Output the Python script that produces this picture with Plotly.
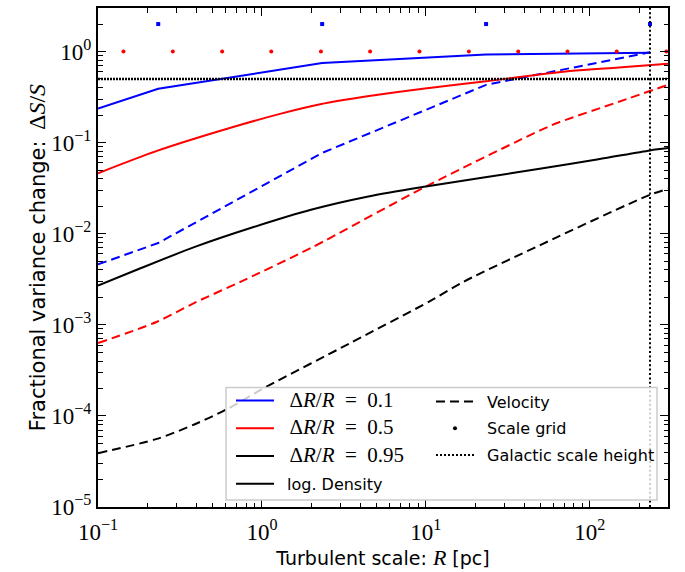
import numpy as np
import plotly.graph_objects as go

# ---------------- data ----------------
R_blue = [0.1, 0.233, 2.33, 23.3, 233]
blue_density = [0.236, 0.39, 0.745, 0.927, 0.966]
blue_velocity = [4.6e-3, 7.9e-3, 0.077, 0.43, 0.98]

R_red_d = [0.1, 0.229, 0.675, 1.29, 2.27, 4.5, 9.6, 21.3, 75.5, 150, 300]
red_density = [0.046, 0.081, 0.149, 0.2065, 0.263, 0.3236, 0.39, 0.462, 0.609, 0.668, 0.735]
R_red_v = [0.1, 0.229, 0.39, 0.75, 1.99, 10, 50.6, 65.6, 149, 300]
red_velocity = [6.3e-4, 1.08e-3, 1.75e-3, 3.0e-3, 6.97e-3, 0.0329, 0.138, 0.168, 0.279, 0.43]

R_blk_d = [0.1, 0.174, 0.39, 0.88, 1.99, 4.46, 10, 22.5, 50.6, 113, 233, 300]
black_density = [2.69e-3, 4.04e-3, 7.16e-3, 0.01175, 0.0183, 0.0256, 0.0329, 0.0413, 0.0519, 0.0655, 0.082, 0.087]
R_blk_v = [0.1, 0.229, 0.39, 0.603, 1.04, 3.4, 10.6, 17.2, 50.6, 233, 300]
black_velocity = [3.9e-5, 5.6e-5, 8.1e-5, 1.17e-4, 2.04e-4, 6.2e-4, 1.82e-3, 3.0e-3, 7.6e-3, 0.0267, 0.031]

grid_blue_R = [0.233, 2.33, 23.3, 233]
grid_blue_y = 2.0
grid_red_R = [0.143, 0.286, 0.572, 1.14, 2.29, 4.57, 9.14, 18.3, 36.6, 73.1, 146, 293]
grid_red_y = 1.0

threshold = 0.5
R_gal = 233

x_range = [0.1, 300]
y_range = [1e-5, 3]
x_tickvals = [0.1, 1, 10, 100]
x_ticktext = ["10<sup>−1</sup>", "10<sup>0</sup>", "10<sup>1</sup>", "10<sup>2</sup>"]
y_tickvals = [1e-5, 1e-4, 1e-3, 1e-2, 1e-1, 1]
y_ticktext = ["10<sup>−5</sup>", "10<sup>−4</sup>", "10<sup>−3</sup>", "10<sup>−2</sup>",
              "10<sup>−1</sup>", "10<sup>0</sup>"]

labels_dr = ["0.1", "0.5", "0.95"]
colors = ["#0000ff", "#ff0000", "#000000"]

# ---------------- figure ----------------
SERIF = "Liberation Serif"
SANS = "DejaVu Sans"
DASH = "9px,5px"

fig = go.Figure()

def add_line(x, y, color, dash, shape):
    fig.add_trace(go.Scatter(x=x, y=y, mode="lines", showlegend=False,
                             line=dict(color=color, width=2, dash=dash, shape=shape, smoothing=0.8),
                             hoverinfo="skip"))

add_line(R_blue, blue_density, colors[0], "solid", "linear")
add_line(R_blue, blue_velocity, colors[0], DASH, "linear")
add_line(R_red_d, red_density, colors[1], "solid", "spline")
add_line(R_red_v, red_velocity, colors[1], DASH, "spline")
add_line(R_blk_d, black_density, colors[2], "solid", "spline")
add_line(R_blk_v, black_velocity, colors[2], DASH, "spline")

# scale grid dots
fig.add_trace(go.Scatter(x=grid_blue_R, y=[grid_blue_y] * len(grid_blue_R), mode="markers",
                         marker=dict(color=colors[0], size=4, symbol="square"), showlegend=False))
fig.add_trace(go.Scatter(x=grid_red_R, y=[grid_red_y] * len(grid_red_R), mode="markers",
                         marker=dict(color=colors[1], size=4), showlegend=False))

# reference lines
fig.add_trace(go.Scatter(x=x_range, y=[threshold, threshold], mode="lines", showlegend=False,
                         line=dict(color="black", width=2.5, dash="2px,1px")))
fig.add_trace(go.Scatter(x=[R_gal, R_gal], y=y_range, mode="lines", showlegend=False,
                         line=dict(color="black", width=2, dash="2px,2.4px")))

# legend proxies
SP = "\u2002"
for lab, c in zip(labels_dr, colors):
    fig.add_trace(go.Scatter(x=[None], y=[None], mode="lines", line=dict(color=c, width=2),
                             name=f"<span style='font-family:{SERIF};font-size:21px'>{SP}Δ<i>R</i>/<i>R</i>{SP}={SP}{lab}</span>",
                             legend="legend", legendgroup=lab))
fig.add_trace(go.Scatter(x=[None], y=[None], mode="lines", line=dict(color="black", width=2),
                         name=f"{SP}log. Density", legend="legend", legendgroup="dens"))
fig.add_trace(go.Scatter(x=[None], y=[None], mode="lines", line=dict(color="black", width=2, dash=DASH),
                         name=f"{SP}Velocity", legend="legend2", legendgroup="vel"))
fig.add_trace(go.Scatter(x=[None], y=[None], mode="markers", marker=dict(color="black", size=4),
                         name=f"{SP}Scale grid", legend="legend2", legendgroup="grid"))
fig.add_trace(go.Scatter(x=[None], y=[None], mode="lines", line=dict(color="black", width=2, dash="2px,2px"),
                         name=f"{SP}Galactic scale height", legend="legend2", legendgroup="gal"))

# plot-area geometry in px
L, Rm, T, B = 98, 17, 6, 65
W, H = 685, 572
pw, ph = W - L - Rm, H - T - B

def px_to_paper(x, y):
    return (x - L) / pw, (H - B - y) / ph

bx0, by0 = px_to_paper(226, 387)
bx1, by1 = px_to_paper(657, 500)
fig.add_shape(type="rect", xref="paper", yref="paper", x0=bx0, y0=by1, x1=bx1, y1=by0,
              line=dict(color="#cccccc", width=1.5), fillcolor="rgba(255,255,255,0.8)", layer="above")

lx1, ly1 = px_to_paper(231, 383)
lx2, ly2 = px_to_paper(431, 384)
legend_common = dict(bgcolor="rgba(0,0,0,0)", borderwidth=0, yanchor="top", xanchor="left",
                     font=dict(family=SANS, size=16, color="black"), tracegroupgap=4,
                     itemwidth=38)
fig.update_layout(
    legend=dict(x=lx1, y=ly1, **legend_common),
    legend2=dict(x=lx2, y=ly2, **{**legend_common, "tracegroupgap": 3}),
)

def minor_vals(lo, hi):
    vals = []
    for e in range(lo, hi + 1):
        for m in range(2, 10):
            vals.append(m * 10.0 ** e)
    return vals

xminor = [v for v in minor_vals(-1, 2) if x_range[0] < v <= x_range[1]]
yminor = [v for v in minor_vals(-5, 0) if y_range[0] < v <= y_range[1]]

axis_common = dict(type="log", showline=True, linecolor="black", linewidth=2, mirror="allticks",
                   ticks="inside", ticklen=8, tickwidth=1.3, tickcolor="black", showgrid=False,
                   zeroline=False, tickmode="array",
                   tickfont=dict(family=SERIF, size=23, color="black"),
                   minor=dict(tickmode="array", ticks="inside", ticklen=4.5, tickwidth=1.1,
                              tickcolor="black", showgrid=False))

fig.update_layout(
    width=W, height=H, margin=dict(l=L, r=Rm, t=T, b=B),
    plot_bgcolor="white", paper_bgcolor="white",
    xaxis=dict(range=[np.log10(x_range[0]), np.log10(x_range[1])], tickvals=x_tickvals,
               ticktext=x_ticktext, ticklabelstandoff=3,
               title=dict(text=f"Turbulent scale: <span style='font-family:{SERIF};font-size:22px'><i>R</i></span> [pc]",
                          font=dict(family=SANS, size=19, color="black"), standoff=2),
               **{**axis_common, "minor": {**axis_common["minor"], "tickvals": xminor}}),
    yaxis=dict(range=[np.log10(y_range[0]), np.log10(y_range[1])], tickvals=y_tickvals,
               ticktext=y_ticktext,
               title=dict(text=f"Fractional variance change:{SP}<span style='font-family:{SERIF};font-size:24px'>Δ<i>S</i>/<i>S</i></span>",
                          font=dict(family=SANS, size=21, color="black"), standoff=0),
               **{**axis_common, "minor": {**axis_common["minor"], "tickvals": yminor}}),
)

fig.write_html("out.html")
